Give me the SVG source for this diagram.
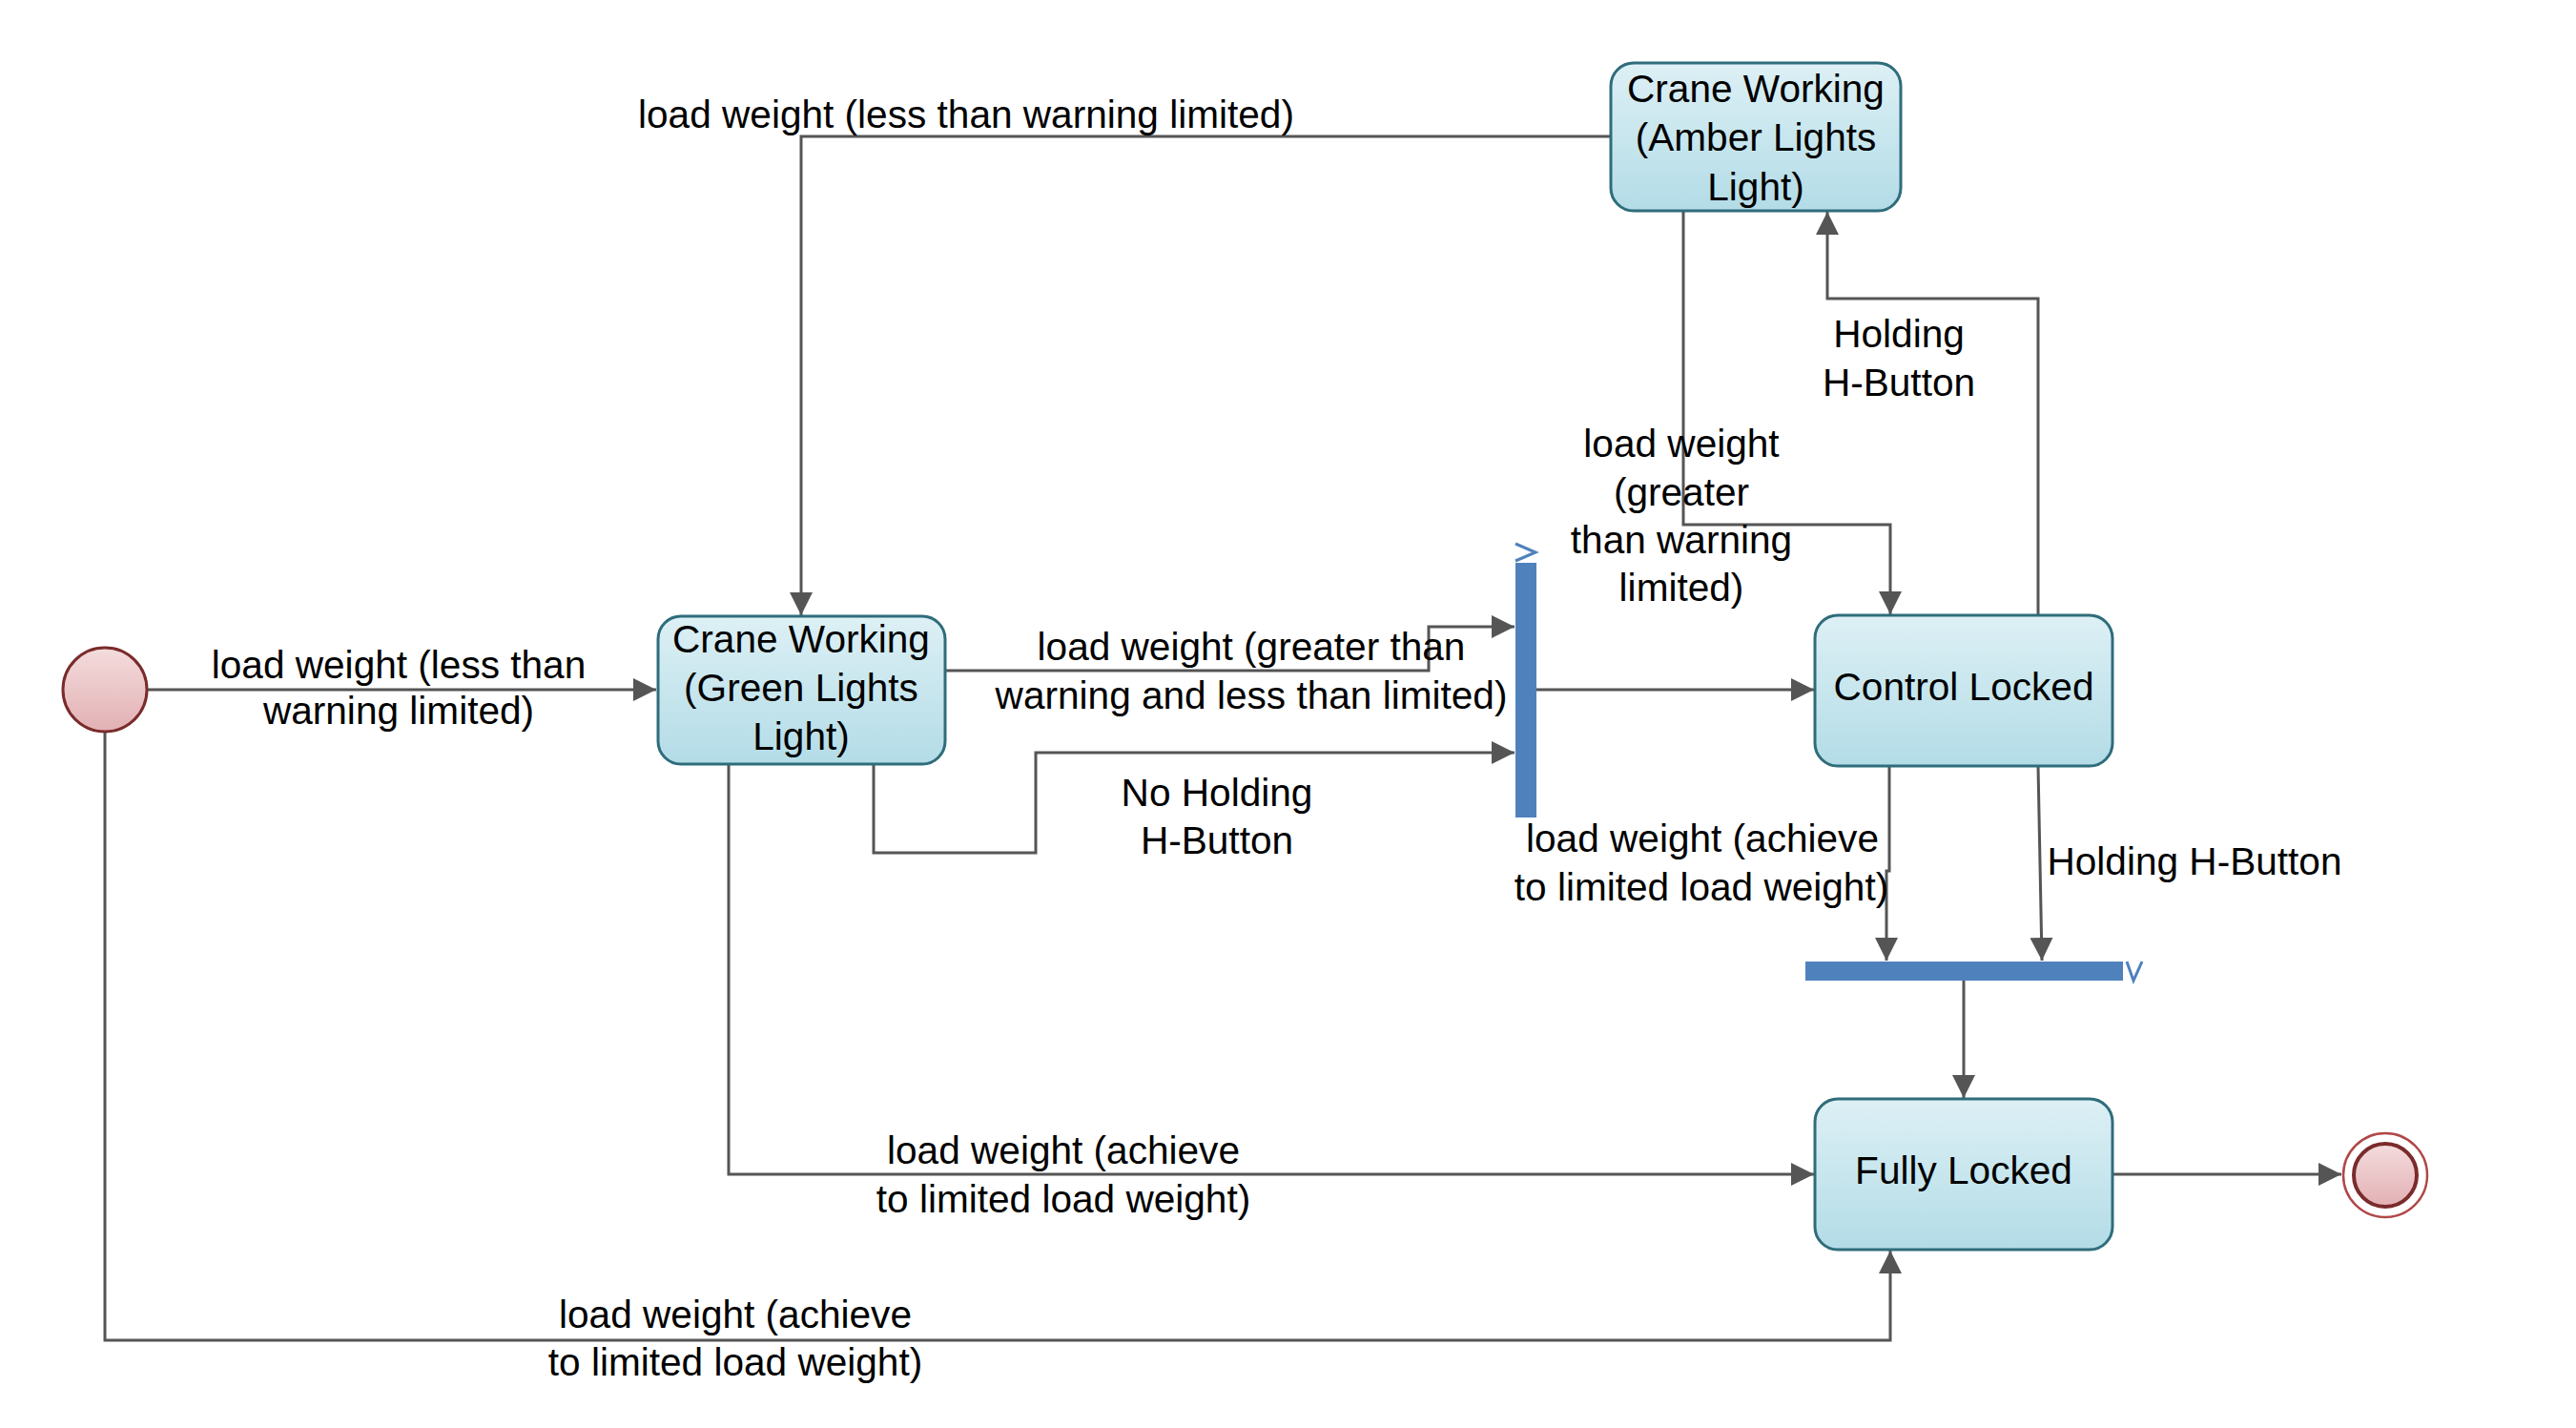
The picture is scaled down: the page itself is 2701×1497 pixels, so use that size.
<svg xmlns="http://www.w3.org/2000/svg" width="2701" height="1497" viewBox="0 0 2701 1497">
<defs>
<linearGradient id="boxGrad" x1="0" y1="0" x2="0" y2="1">
<stop offset="0" stop-color="#ddf0f5"/>
<stop offset="1" stop-color="#b3dce7"/>
</linearGradient>
<linearGradient id="pinkGrad" x1="0" y1="0" x2="0" y2="1">
<stop offset="0" stop-color="#f4dcdd"/>
<stop offset="1" stop-color="#e2b0b3"/>
</linearGradient>
<marker id="arr" markerUnits="userSpaceOnUse" markerWidth="24" markerHeight="24" viewBox="0 0 24 24" refX="24" refY="12" orient="auto">
<path d="M0,0 L24,12 L0,24 z" fill="#555555"/>
</marker>
</defs>
<style>
.state{fill:url(#boxGrad);stroke:#2f6d7b;stroke-width:3}
.t{font-family:"Liberation Sans",Arial,sans-serif;font-size:40.6px;fill:#000;text-anchor:middle}
.c{fill:none;stroke:#555555;stroke-width:3;marker-end:url(#arr)}
.bar{fill:#4f81bd}
.hint{fill:none;stroke:#4f81bd;stroke-width:3}
</style>
<rect width="2701" height="1497" fill="#ffffff"/>
<g id="connectors">
<path class="c" d="M155,723 H688"/>
<path class="c" d="M1689,143 H840 V645"/>
<path class="c" d="M991,703 H1498 V657 H1588"/>
<path class="c" d="M916,801 V894 H1086 V789 H1588"/>
<path class="c" d="M1611,723 H1902"/>
<path class="c" d="M1765,221 V550 H1982 V644"/>
<path class="c" d="M2137,645 V313 H1916 V222"/>
<path class="c" d="M1981,803 V913 H1978 V1007"/>
<path class="c" d="M2137,803 L2141,1007"/>
<path class="c" d="M2059,1028 V1151"/>
<path class="c" d="M764,801 V1231 H1902"/>
<path class="c" d="M110,768 V1405 H1982 V1311"/>
<path class="c" d="M2215,1231 H2455"/>
</g>
<g id="labels">
<text class="t" x="1013" y="134">load weight (less than warning limited)</text>
<text class="t" x="418" y="711">load weight (less than</text>
<text class="t" x="418" y="759">warning limited)</text>
<text class="t" x="1312" y="692">load weight (greater than</text>
<text class="t" x="1312" y="743">warning and less than limited)</text>
<text class="t" x="1276" y="845">No Holding</text>
<text class="t" x="1276" y="895">H-Button</text>
<text class="t" x="1991" y="364">Holding</text>
<text class="t" x="1991" y="415">H-Button</text>
<text class="t" x="1763" y="479">load weight</text>
<text class="t" x="1763" y="530">(greater</text>
<text class="t" x="1763" y="580">than warning</text>
<text class="t" x="1763" y="630">limited)</text>
<text class="t" x="1785" y="893">load weight (achieve</text>
<text class="t" x="1784" y="944">to limited load weight)</text>
<text class="t" x="2301" y="917">Holding H-Button</text>
<text class="t" x="1115" y="1220">load weight (achieve</text>
<text class="t" x="1115" y="1271">to limited load weight)</text>
<text class="t" x="771" y="1392">load weight (achieve</text>
<text class="t" x="771" y="1442">to limited load weight)</text>
</g>
<g id="initial">
<circle cx="110" cy="723" r="44" fill="url(#pinkGrad)" stroke="#7a2b2b" stroke-width="3"/>
</g>
<g id="green">
<rect class="state" x="690" y="646" width="301" height="155" rx="24" ry="24"/>
<text class="t" x="840" y="684">Crane Working</text>
<text class="t" x="840" y="735">(Green Lights</text>
<text class="t" x="840" y="786">Light)</text>
</g>
<g id="amber">
<rect class="state" x="1689" y="66" width="304" height="155" rx="24" ry="24"/>
<text class="t" x="1841" y="107">Crane Working</text>
<text class="t" x="1841" y="158">(Amber Lights</text>
<text class="t" x="1841" y="210">Light)</text>
</g>
<g id="control">
<rect class="state" x="1903" y="645" width="312" height="158" rx="24" ry="24"/>
<text class="t" x="2059" y="734">Control Locked</text>
</g>
<g id="fully">
<rect class="state" x="1903" y="1152" width="312" height="158" rx="24" ry="24"/>
<text class="t" x="2059" y="1241">Fully Locked</text>
</g>
<g id="fork1">
<rect class="bar" x="1589" y="590" width="22" height="267"/>
<path class="hint" d="M1589,570 L1610,579 L1589,588"/>
</g>
<g id="fork2">
<rect class="bar" x="1893" y="1008" width="333" height="20"/>
<path class="hint" d="M2230,1008 L2237,1028 L2246,1008"/>
</g>
<g id="final">
<circle cx="2501" cy="1232" r="44" fill="#ffffff" stroke="#b04848" stroke-width="2.5"/>
<circle cx="2501" cy="1232" r="33" fill="url(#pinkGrad)" stroke="#7a2b2b" stroke-width="4"/>
</g>
</svg>
